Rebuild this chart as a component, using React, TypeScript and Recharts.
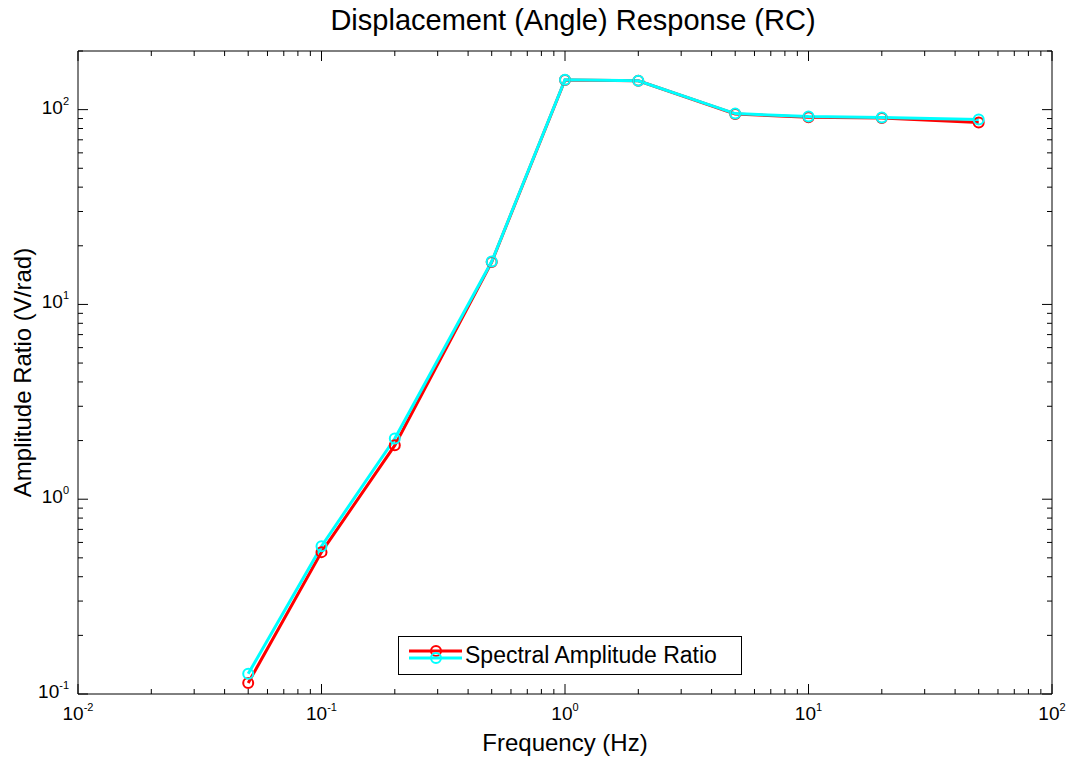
import { LineChart, Line, XAxis, YAxis, Label } from "recharts"

const freq = [0.05, 0.1, 0.2, 0.5, 1, 2, 5, 10, 20, 50]
const redRatio = [0.114, 0.535, 1.89, 16.5, 142, 140.5, 95, 91.5, 90.5, 86]
const cyanRatio = [0.127, 0.574, 2.05, 16.6, 142.5, 140.7, 95.4, 92.1, 91, 88.9]

const xMajor = [0.01, 0.1, 1, 10, 100]
const yMajor = [0.1, 1, 10, 100]
const xTicks = [
  0.01, 0.02, 0.03, 0.04, 0.05, 0.06, 0.07, 0.08, 0.09,
  0.1, 0.2, 0.3, 0.4, 0.5, 0.6, 0.7, 0.8, 0.9,
  1, 2, 3, 4, 5, 6, 7, 8, 9,
  10, 20, 30, 40, 50, 60, 70, 80, 90, 100,
]
const yTicks = [
  0.1, 0.2, 0.3, 0.4, 0.5, 0.6, 0.7, 0.8, 0.9,
  1, 2, 3, 4, 5, 6, 7, 8, 9,
  10, 20, 30, 40, 50, 60, 70, 80, 90, 100, 200,
]

const data = freq.map((f, i) => ({ f, red: redRatio[i], cyan: cyanRatio[i] }))

const FONT = "'Liberation Sans', Arial, Helvetica, sans-serif"
const isMajor = (v: number, list: number[]) => list.some((m) => Math.abs(m - v) < 1e-9)
const expOf = (v: number) => String(Math.round(Math.log10(v)))

function Pow({ x, y, v, anchor }: { x: number; y: number; v: number; anchor: "middle" | "end" }) {
  return (
    <text x={x} y={y} textAnchor={anchor} fontFamily={FONT} fontSize={19} fill="#000">
      10
      <tspan dy={-9} fontSize={11}>{expOf(v)}</tspan>
    </text>
  )
}

function BottomTick(props: any) {
  const { x, y, payload } = props
  const major = isMajor(payload.value, xMajor)
  return (
    <g>
      <line x1={x} x2={x} y1={y} y2={y - (major ? 10 : 5)} stroke="#000" strokeWidth={1} />
      {major && <Pow x={x} y={y + 26} v={payload.value} anchor="middle" />}
    </g>
  )
}

function TopTick(props: any) {
  const { x, y, payload } = props
  const major = isMajor(payload.value, xMajor)
  return <line x1={x} x2={x} y1={y} y2={y + (major ? 10 : 5)} stroke="#000" strokeWidth={1} />
}

function LeftTick(props: any) {
  const { x, y, payload } = props
  const major = isMajor(payload.value, yMajor)
  return (
    <g>
      <line x1={x} x2={x + (major ? 10 : 5)} y1={y} y2={y} stroke="#000" strokeWidth={1} />
      {major && <Pow x={x - 9} y={y + 4} v={payload.value} anchor="end" />}
    </g>
  )
}

function RightTick(props: any) {
  const { x, y, payload } = props
  const major = isMajor(payload.value, yMajor)
  return <line x1={x} x2={x - (major ? 10 : 5)} y1={y} y2={y} stroke="#000" strokeWidth={1} />
}

const ring = (color: string) => ({ r: 5, stroke: color, strokeWidth: 2, fill: "none" })

export default function App() {
  return (
    <div style={{ position: "relative", width: 1068, height: 757, background: "#fff" }}>
      <style>{"body{margin:0}"}</style>
      <LineChart width={1068} height={757} data={data} margin={{ top: 0, right: 0, bottom: 0, left: 0 }}>
        <XAxis
          dataKey="f"
          type="number"
          scale="log"
          domain={[0.01, 100]}
          ticks={xTicks}
          interval={0}
          height={63}
          tickSize={0}
          tickMargin={0}
          tickLine={false}
          tick={<BottomTick />}
          stroke="#000"
          allowDataOverflow
        >
          <Label value="Frequency (Hz)" position="insideBottom" offset={6} style={{ fontFamily: FONT, fontSize: 24, fill: "#000" }} />
        </XAxis>
        <XAxis
          xAxisId="top"
          dataKey="f"
          orientation="top"
          type="number"
          scale="log"
          domain={[0.01, 100]}
          ticks={xTicks}
          interval={0}
          height={51}
          tickSize={0}
          tickMargin={0}
          tickLine={false}
          tick={<TopTick />}
          stroke="#000"
          allowDataOverflow
        />
        <YAxis
          type="number"
          scale="log"
          domain={[0.1, 200]}
          ticks={yTicks}
          interval={0}
          width={78}
          tickSize={0}
          tickMargin={0}
          tickLine={false}
          tick={<LeftTick />}
          stroke="#000"
          allowDataOverflow
        >
          <Label
            value="Amplitude Ratio (V/rad)"
            angle={-90}
            position="insideLeft"
            offset={22}
            style={{ fontFamily: FONT, fontSize: 24, fill: "#000", textAnchor: "middle" }}
          />
        </YAxis>
        <YAxis
          yAxisId="right"
          orientation="right"
          type="number"
          scale="log"
          domain={[0.1, 200]}
          ticks={yTicks}
          interval={0}
          width={16}
          tickSize={0}
          tickMargin={0}
          tickLine={false}
          tick={<RightTick />}
          stroke="#000"
          allowDataOverflow
        />
        <Line dataKey="red" stroke="#ff0000" strokeWidth={3} dot={ring("#ff0000")} activeDot={false} isAnimationActive={false} />
        <Line dataKey="cyan" stroke="#00ffff" strokeWidth={3} dot={ring("#00ffff")} activeDot={false} isAnimationActive={false} />
      </LineChart>
      <div
        style={{
          position: "absolute",
          left: 0,
          width: 1146,
          top: 4,
          textAlign: "center",
          fontFamily: FONT,
          fontSize: 29,
          color: "#000",
        }}
      >
        Displacement (Angle) Response (RC)
      </div>
      <div
        style={{
          position: "absolute",
          left: 398,
          top: 636,
          width: 342,
          height: 37,
          border: "1px solid #000",
          background: "#fff",
          display: "flex",
          alignItems: "center",
          fontFamily: FONT,
          fontSize: 23,
        }}
      >
        <svg width={66} height={37} style={{ flex: "none" }}>
          <line x1={10} x2={63} y1={14} y2={14} stroke="#ff0000" strokeWidth={3} />
          <circle cx={37} cy={14} r={5} stroke="#ff0000" strokeWidth={2} fill="none" />
          <line x1={10} x2={63} y1={21} y2={21} stroke="#00ffff" strokeWidth={3} />
          <circle cx={37} cy={21} r={5} stroke="#00ffff" strokeWidth={2} fill="none" />
        </svg>
        <span>Spectral Amplitude Ratio</span>
      </div>
    </div>
  )
}
